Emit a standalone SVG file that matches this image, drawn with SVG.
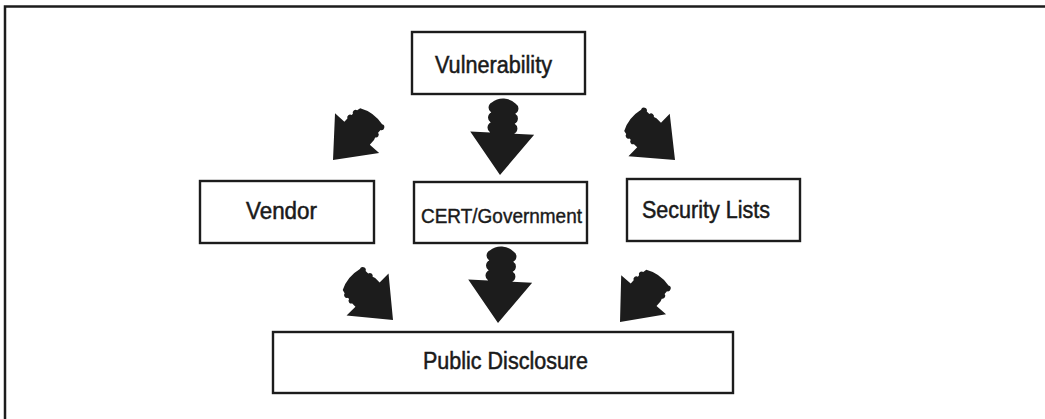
<svg xmlns="http://www.w3.org/2000/svg" xmlns:xlink="http://www.w3.org/1999/xlink" width="1045" height="419" viewBox="0 0 1045 419">
  <style>
    .box { fill: #ffffff; stroke: #1c1c1c; stroke-width: 2.4; }
    .label { font-family: "Liberation Sans", Arial, sans-serif; font-size: 23px; fill: #1a1a1a; stroke: #1a1a1a; stroke-width: 0.5; }
    .small { font-size: 19.5px; stroke-width: 0.4; }
    .frame { stroke: #1c1c1c; stroke-width: 2.5; fill: none; }
    .arrow { fill: #1c1c1c; }
  </style>
  <defs>
    <!-- straight block arrow with a lumpy tail, tip at the origin, pointing down -->
    <path id="block-arrow" d="M0,0 L-32,-42 L-12,-42 A5.7,5.7 0 0 1 -12,-52 A5.7,5.7 0 0 1 -12,-62 A5.7,5.7 0 0 1 -12,-72 A18,18 0 0 1 12,-72 A5.7,5.7 0 0 1 12,-62 A5.7,5.7 0 0 1 12,-52 A5.7,5.7 0 0 1 12,-42 L32,-42 Z"/>
    <!-- stubbier variant with a broad notched tail, used on the slanted links -->
    <path id="block-arrow-wide" d="M0,0 L-33,-40 L-19,-40 L-19,-45 A3.2,3.2 0 0 1 -18,-51 L-18,-53 A3.2,3.2 0 0 1 -17,-59 L-16,-63 Q-2,-70 14,-66 A3.2,3.2 0 0 1 17,-60 L17,-56 A3.2,3.2 0 0 1 18,-50 L19,-47 L19,-40 L33,-40 Z"/>
  </defs>

  <rect width="1045" height="419" fill="#ffffff"/>
  <!-- page frame: top and left rules -->
  <path class="frame" d="M5,419 L5,6.5 L1045,6.5"/>

  <g id="connectors" class="arrow">
    <use xlink:href="#block-arrow" transform="translate(500,175) rotate(3)"/>
    <use xlink:href="#block-arrow-wide" transform="translate(333,160) rotate(42) scale(0.9)"/>
    <use xlink:href="#block-arrow-wide" transform="translate(675,160) rotate(-46) scale(0.9)"/>
    <use xlink:href="#block-arrow-wide" transform="translate(393,320) rotate(-45) scale(0.9)"/>
    <use xlink:href="#block-arrow" transform="translate(498,323) rotate(3)"/>
    <use xlink:href="#block-arrow-wide" transform="translate(620,322) rotate(41) scale(0.9)"/>
  </g>

  <g id="vulnerability">
    <rect class="box" x="412" y="32" width="173" height="62"/>
    <text class="label" x="435" y="72.5" textLength="117" lengthAdjust="spacingAndGlyphs">Vulnerability</text>
  </g>

  <g id="vendor">
    <rect class="box" x="200" y="181" width="174" height="62"/>
    <text class="label" x="246" y="219" textLength="71" lengthAdjust="spacingAndGlyphs">Vendor</text>
  </g>

  <g id="cert-government">
    <rect class="box" x="414" y="182" width="173" height="61"/>
    <text class="label small" x="421" y="223" textLength="161" lengthAdjust="spacingAndGlyphs">CERT/Government</text>
  </g>

  <g id="security-lists">
    <rect class="box" x="627" y="179" width="173" height="62"/>
    <text class="label" x="642" y="218" textLength="128" lengthAdjust="spacingAndGlyphs">Security Lists</text>
  </g>

  <g id="public-disclosure">
    <rect class="box" x="273" y="332" width="460" height="61"/>
    <text class="label" x="423" y="369" textLength="165" lengthAdjust="spacingAndGlyphs">Public Disclosure</text>
  </g>
</svg>
